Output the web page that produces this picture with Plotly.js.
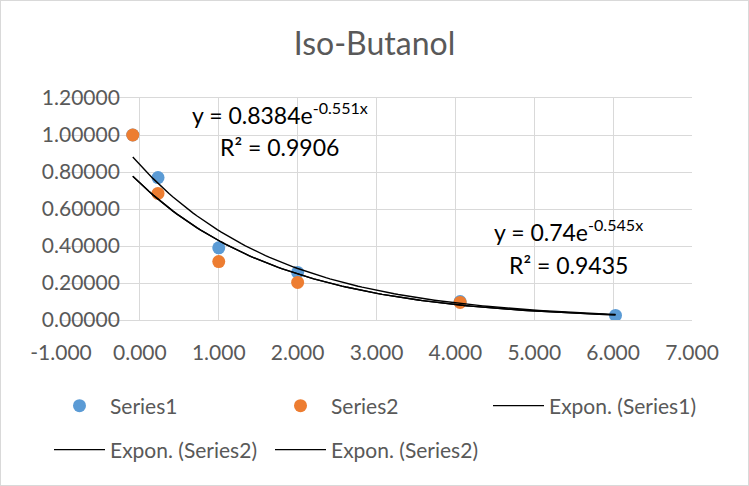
<!DOCTYPE html>
<html>
<head>
<meta charset="utf-8">
<script src="https://cdn.plot.ly/plotly-3.0.1.min.js"></script>
<style>
html,body{margin:0;padding:0;background:#fff;}
#wrap{position:relative;width:749px;height:486px;}
#chart{width:749px;height:486px;}
#border{position:absolute;left:0;top:0;width:749px;height:486px;box-sizing:border-box;border:1px solid #d9d9d9;pointer-events:none;}
</style>
</head>
<body>
<div id="wrap"><div id="chart"></div><div id="border"></div></div>
<script>
// ---- data ----
const series1X = [-0.09, 0.23, 1.00, 2.00, 4.06, 6.03];
const series1Y = [1.000, 0.770, 0.390, 0.257, 0.100, 0.025];
const series2X = [-0.09, 0.23, 1.00, 2.00, 4.06];
const series2Y = [1.000, 0.684, 0.316, 0.203, 0.095];

// exponential trendlines y = a * e^(b x), as given in the chart labels
const trendNames = ['Expon. (Series1)', 'Expon. (Series2)', 'Expon. (Series2)'];
const trendA = [0.8384, 0.74, 0.74];
const trendB = [-0.551, -0.545, -0.545];
const trendRange = [-0.09, 6.03];
const trendLegend = ['legend3', 'legend2', 'legend2'];

const eqText = ['y = 0.8384e<sup>-0.551x</sup>', 'y = 0.74e<sup>-0.545x</sup>'];
const r2Text = ['R² = 0.9906', 'R² = 0.9435'];

const xTicks = [-1, 0, 1, 2, 3, 4, 5, 6, 7];
const yTicks = [0, 0.2, 0.4, 0.6, 0.8, 1.0, 1.2];
const xTickText = xTicks.map(v => v.toFixed(3));
const yTickText = yTicks.map(v => v.toFixed(5));

const FONT = 'Lato, "Open Sans", sans-serif';
const TXT = '#595959';

function curve(a, b) {
  const xs = [], ys = [];
  const n = 120;
  for (let i = 0; i <= n; i++) {
    const x = trendRange[0] + (trendRange[1] - trendRange[0]) * i / n;
    xs.push(x); ys.push(a * Math.exp(b * x));
  }
  return {xs, ys};
}

const traces = [];
traces.push({
  x: series1X, y: series1Y, type: 'scatter', mode: 'markers', name: 'Series1',
  marker: {color: '#5B9BD5', size: 13}, legend: 'legend'
});
traces.push({
  x: series2X, y: series2Y, type: 'scatter', mode: 'markers', name: 'Series2',
  marker: {color: '#ED7D31', size: 13}, legend: 'legend'
});
for (let i = 0; i < trendNames.length; i++) {
  const c = curve(trendA[i], trendB[i]);
  traces.push({
    x: c.xs, y: c.ys, type: 'scatter', mode: 'lines', name: trendNames[i],
    line: {color: '#000000', width: 1.4}, legend: trendLegend[i]
  });
}

const annotations = [
  {text: eqText[0], x: 0.347, y: 0.932},
  {text: r2Text[0], x: 0.347, y: 0.779},
  {text: eqText[1], x: 0.805, y: 0.405},
  {text: r2Text[1], x: 0.805, y: 0.248}
].map(a => Object.assign({
  xref: 'paper', yref: 'paper', showarrow: false, xanchor: 'center', yanchor: 'middle',
  font: {family: FONT, size: 23, color: '#000000'}
}, a));

const legendBase = {
  orientation: 'h', xref: 'container', yref: 'container', xanchor: 'left', yanchor: 'middle',
  entrywidth: 155, entrywidthmode: 'pixels', itemwidth: 51,
  font: {family: FONT, size: 21, color: TXT}, bgcolor: 'rgba(0,0,0,0)'
};

const layout = {
  width: 749, height: 486,
  paper_bgcolor: '#ffffff', plot_bgcolor: '#ffffff',
  margin: {l: 61, r: 57, t: 98, b: 166, autoexpand: false},
  font: {family: FONT, color: TXT},
  title: {
    text: 'Iso-Butanol', x: 0.5, xanchor: 'center', xref: 'container',
    y: 0.909, yanchor: 'middle', yref: 'container',
    font: {family: FONT, size: 32, color: TXT}
  },
  xaxis: {
    range: [-1, 7], tickvals: xTicks, ticktext: xTickText,
    showgrid: true, gridcolor: '#d9d9d9', gridwidth: 1,
    zeroline: false, showline: true, linecolor: '#d9d9d9', mirror: true,
    ticks: '', tickfont: {family: FONT, size: 21, color: TXT},
    ticklabelstandoff: 14, fixedrange: true
  },
  yaxis: {
    range: [0, 1.2], tickvals: yTicks, ticktext: yTickText,
    showgrid: true, gridcolor: '#d9d9d9', gridwidth: 1,
    zeroline: false, showline: false,
    anchor: 'free', position: 0.125,
    ticks: '', tickfont: {family: FONT, size: 21, color: TXT},
    ticklabelstandoff: 20, fixedrange: true
  },
  showlegend: true,
  legend: Object.assign({}, legendBase, {x: 49 / 749, y: 1 - 406 / 486}),
  legend3: Object.assign({}, legendBase, {x: 488 / 749, y: 1 - 406 / 486}),
  legend2: Object.assign({}, legendBase, {x: 49 / 749, y: 1 - 450 / 486}),
  annotations: annotations
};

Plotly.newPlot('chart', traces, layout, {displayModeBar: false, staticPlot: true});
</script>
</body>
</html>
